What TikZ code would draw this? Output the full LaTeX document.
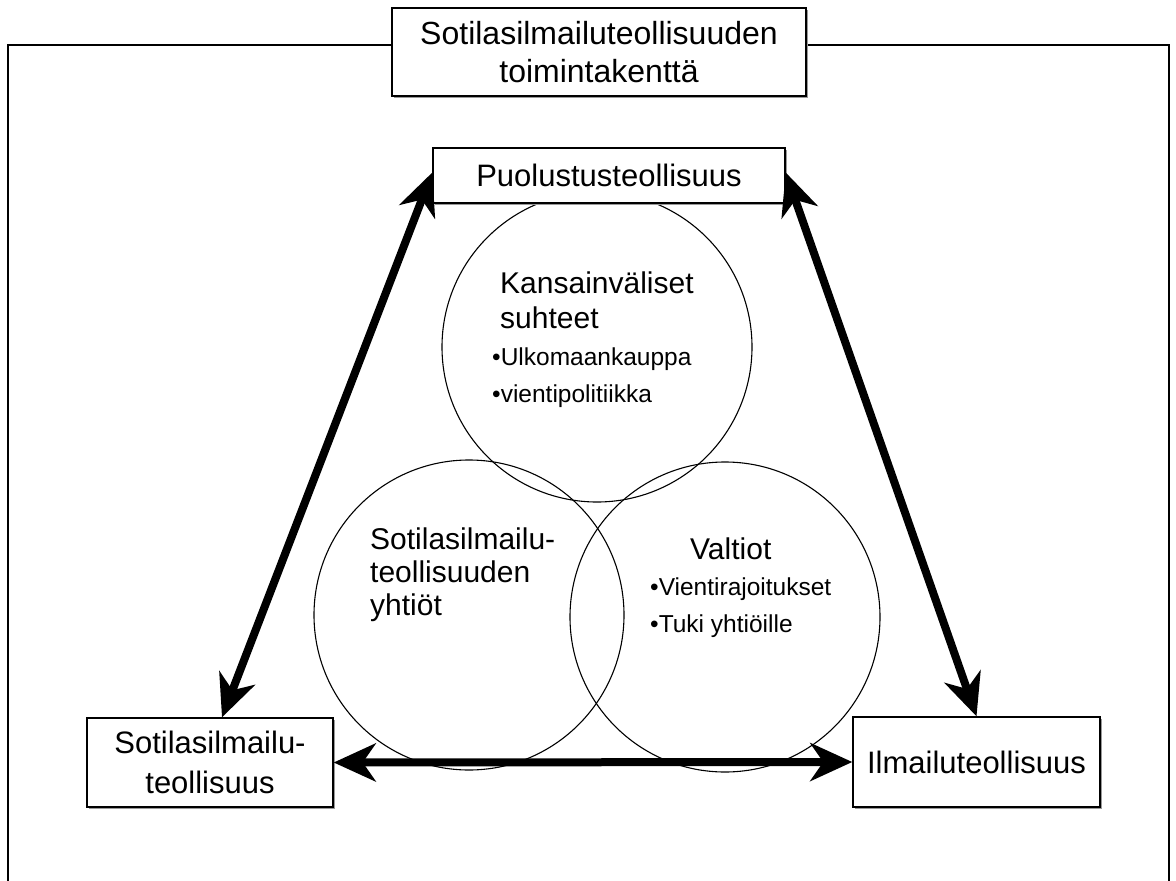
\documentclass[tikz,border=0pt]{standalone}
\usepackage{fontspec}
\setmainfont{Liberation Sans}
\usetikzlibrary{arrows.meta,shadows,calc}
\begin{document}
\begin{tikzpicture}[x=1pt,y=-1pt,
  box/.style={draw, line width=1.4pt, fill=white, align=center, inner sep=0pt,
    font=\fontsize{31}{40}\selectfont,
    drop shadow={shadow xshift=1.5pt, shadow yshift=-1.5pt, fill=gray!80, opacity=1}},
  ring/.style={draw, line width=1.1pt, circle, minimum size=310pt, inner sep=0pt},
  tipa/.tip={Stealth[length=42pt,width=38pt,inset=13pt]},
  dbl/.style={tipa-tipa, line width=8pt},
  head/.style={anchor=base west, inner sep=0pt, font=\fontsize{30}{34}\selectfont},
  item/.style={anchor=base west, inner sep=0pt, font=\fontsize{24.5}{28}\selectfont}]
\useasboundingbox (0,0) rectangle (1176,881);
\draw[line width=1.5pt] (8,900) -- (8,45) -- (1169,45) -- (1169,900);

% circles
\node[ring] (c1) at (597,347) {};
\node[ring] (c2) at (469,615) {};
\node[ring] (c3) at (725,617) {};

% boxes
\node[box, minimum width=414pt, minimum height=88pt, font=\fontsize{32}{38}\selectfont] (title) at (599,52) {Sotilasilmailuteollisuuden\\toimintakenttä};
\node[box, minimum width=352pt, minimum height=55pt] (puol) at (609,175.5) {Puolustusteollisuus};
\node[box, minimum width=246pt, minimum height=89pt] (lbox) at (210,762.5) {Sotilasilmailu-\\teollisuus};
\node[box, minimum width=247pt, minimum height=90pt] (rbox) at (976.5,762) {Ilmailuteollisuus};

% circle texts
\node[head] (t1a) at (500,293) {Kansainväliset};
\node[head] (t1b) at (500,328) {suhteet};
\node[item] (t1c) at (492,365) {•Ulkomaankauppa};
\node[item] (t1d) at (492,402) {•vientipolitiikka};

\node[head] (t2a) at (370,549) {Sotilasilmailu-};
\node[head] (t2b) at (370,582) {teollisuuden};
\node[head] (t2c) at (370,615) {yhtiöt};

\node[head] (t3a) at (690,559) {Valtiot};
\node[item] (t3b) at (650,595) {•Vientirajoitukset};
\node[item] (t3c) at (650,632) {•Tuki yhtiöille};

% arrows
\coordinate (lt) at ([xshift=12pt]lbox.north);
\coordinate (pw) at ([yshift=3pt]puol.west);
\coordinate (pe) at ([yshift=3pt]puol.east);
\draw[dbl] (lt) -- (pw);
\draw[dbl] (rbox.north) -- (pe);
\draw[dbl] (lbox.east) -- (rbox.west);
\end{tikzpicture}
\end{document}
